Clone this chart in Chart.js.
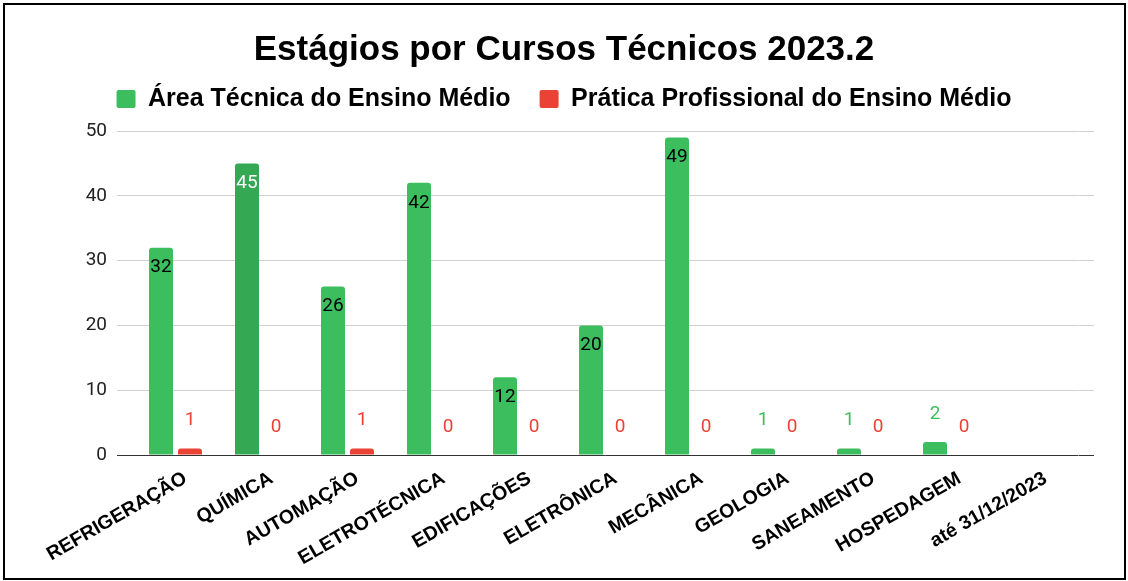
<!DOCTYPE html>
<html>
<head>
<meta charset="utf-8">
<script src="https://cdn.jsdelivr.net/npm/chart.js@4.4.1/dist/chart.umd.min.js"></script>
<style>
  html, body { margin: 0; padding: 0; background: #fff; }
  #wrap { position: relative; width: 1128px; height: 581px; }
  #frame { position: absolute; left: 3px; top: 3px; width: 1123px; height: 577px; box-sizing: border-box; border: 2px solid #000; pointer-events: none; }
  canvas { position: absolute; left: 0; top: 0; }
</style>
</head>
<body>
<div id="wrap">
  <canvas id="c" width="1128" height="581"></canvas>
  <div id="frame"></div>
</div>
<script>
const chartTitle = 'Estágios por Cursos Técnicos 2023.2';
const categories = ['REFRIGERAÇÃO', 'QUÍMICA', 'AUTOMAÇÃO', 'ELETROTÉCNICA', 'EDIFICAÇÕES', 'ELETRÔNICA', 'MECÂNICA', 'GEOLOGIA', 'SANEAMENTO', 'HOSPEDAGEM', 'até 31/12/2023'];
const seriesNames = ['Área Técnica do Ensino Médio', 'Prática Profissional do Ensino Médio'];
const areaTecnica = [32, 45, 26, 42, 12, 20, 49, 1, 1, 2, null];
const praticaProfissional = [1, 0, 1, 0, 0, 0, 0, 0, 0, 0, null];
const yTicks = [0, 10, 20, 30, 40, 50];

const GREEN = '#3cbe5e';
const GREEN_DARK = '#34a853';
const RED = '#ea4335';
const highlightIndex = 1;

const plotLeft = 132.5, plotRight = 1078.5, plotBottom = 455;

const dataLabels = {
  id: 'dataLabels',
  afterDatasetsDraw(chart) {
    const ctx = chart.ctx;
    ctx.save();
    ctx.font = '19px Roboto, "Liberation Sans", Arial, sans-serif';
    ctx.textAlign = 'center';
    ctx.textBaseline = 'middle';
    chart.data.datasets.forEach((ds, di) => {
      const meta = chart.getDatasetMeta(di);
      meta.data.forEach((el, i) => {
        const v = ds.data[i];
        if (v === null || v === undefined) return;
        const h = el.base - el.y;
        const txt = String(v);
        if (h > 40) {
          const barCol = (di === 0 && i === highlightIndex) ? GREEN_DARK : (di === 0 ? GREEN : RED);
          ctx.lineWidth = 3;
          ctx.lineJoin = 'round';
          ctx.strokeStyle = barCol;
          ctx.strokeText(txt, el.x, el.y + 20);
          ctx.fillStyle = (di === 0 && i === highlightIndex) ? '#ffffff' : '#000000';
          ctx.fillText(txt, el.x, el.y + 20);
        } else {
          ctx.fillStyle = di === 0 ? GREEN : RED;
          ctx.fillText(txt, el.x, el.y - 28);
        }
      });
    });
    ctx.restore();
  }
};

new Chart(document.getElementById('c'), {
  type: 'bar',
  data: {
    labels: categories,
    datasets: [
      {
        label: seriesNames[0],
        data: areaTecnica,
        backgroundColor: (c) => c.dataIndex === highlightIndex ? GREEN_DARK : GREEN,
        borderRadius: { topLeft: 3, topRight: 3, bottomLeft: 0, bottomRight: 0 },
        borderSkipped: 'start',
        categoryPercentage: 0.674,
        barPercentage: 0.828
      },
      {
        label: seriesNames[1],
        data: praticaProfissional,
        backgroundColor: RED,
        borderRadius: { topLeft: 3, topRight: 3, bottomLeft: 0, bottomRight: 0 },
        borderSkipped: 'start',
        categoryPercentage: 0.674,
        barPercentage: 0.828
      }
    ]
  },
  options: {
    responsive: false,
    animation: false,
    devicePixelRatio: 1,
    layout: { padding: { left: 0, right: 0, top: 0, bottom: 0 } },
    plugins: {
      title: {
        display: true,
        text: chartTitle,
        color: '#000',
        font: { family: '"Liberation Sans", Arial, sans-serif', size: 35, weight: 'bold', lineHeight: 1.2 },
        padding: { top: 29, bottom: -13.5 }
      },
      legend: {
        display: true,
        position: 'top',
        labels: {
          color: '#000',
          font: { family: '"Liberation Sans", Arial, sans-serif', size: 25, weight: 'bold' },
          boxWidth: 19,
          boxHeight: 18,
          useBorderRadius: true,
          borderRadius: 2,
          padding: 29
        }
      },
      tooltip: { enabled: false }
    },
    scales: {
      x: {
        offset: true,
        grid: { display: false, drawTicks: false },
        border: { display: false },
        ticks: {
          color: '#000',
          font: { family: '"Liberation Sans", Arial, sans-serif', size: 19.5, weight: 'bold' },
          minRotation: 30,
          maxRotation: 30,
          autoSkip: false,
          padding: 12,
          labelOffset: 10
        },
        afterFit: (s) => { s.height = 581 - plotBottom; }
      },
      xTop: {
        type: 'category',
        position: 'top',
        grid: { display: false, drawTicks: false },
        border: { display: false },
        ticks: { display: false },
        afterFit: (s) => { s.height = 9.5; }
      },
      y: {
        position: 'left',
        min: 0,
        max: 50,
        afterBuildTicks: (s) => { s.ticks = yTicks.map(v => ({ value: v })); },
        border: { display: false },
        grid: {
          color: (c) => c.tick && c.tick.value === 0 ? '#333333' : '#d0d0d0',
          drawTicks: true,
          tickLength: 15.5
        },
        ticks: {
          color: '#222',
          font: { family: 'Roboto, "Liberation Sans", Arial, sans-serif', size: 19 },
          padding: 10
        },
        afterFit: (s) => { s.width = plotLeft; }
      },
      y2: {
        position: 'right',
        min: 0,
        max: 50,
        afterBuildTicks: (s) => { s.ticks = yTicks.map(v => ({ value: v })); },
        border: { display: false },
        grid: {
          color: (c) => c.tick && c.tick.value === 0 ? '#333333' : '#d0d0d0',
          drawOnChartArea: false,
          drawTicks: true,
          tickLength: 15.5
        },
        ticks: { display: false },
        afterFit: (s) => { s.width = 1128 - plotRight; }
      }
    }
  },
  plugins: [dataLabels]
});
</script>
</body>
</html>
